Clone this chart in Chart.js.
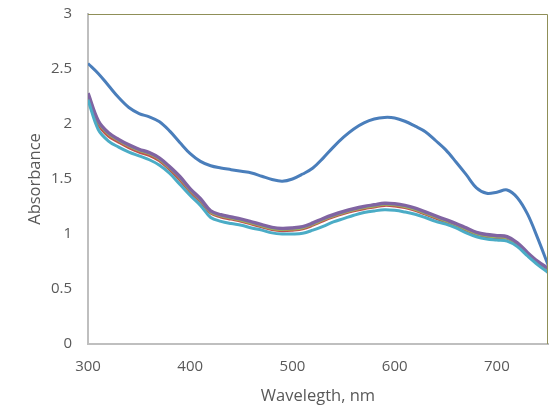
<!DOCTYPE html>
<html lang="en">
<head>
    <meta charset="UTF-8">
    <title>Absorbance spectra</title>
    <style>
        body {
            margin: 0;
            background: #ffffff;
        }
        #wrap {
            width: 554px;
            height: 410px;
        }
    </style>
    <script src="https://cdn.jsdelivr.net/npm/chart.js"></script>
</head>
<body>
    <div id="wrap"><canvas id="specChart" width="554" height="410"></canvas></div>
    <script>
        // wavelengths, nm (every 10 nm)
        const wavelengths = [300, 310, 320, 330, 340, 350, 360, 370, 380, 390,
            400, 410, 420, 430, 440, 450, 460, 470, 480, 490,
            500, 510, 520, 530, 540, 550, 560, 570, 580, 590,
            600, 610, 620, 630, 640, 650, 660, 670, 680, 690,
            700, 710, 720, 730, 740, 750];

        const series1 = [2.55, 2.46, 2.35, 2.24, 2.15, 2.095, 2.065, 2.02, 1.935, 1.83,
            1.73, 1.66, 1.62, 1.60, 1.585, 1.57, 1.555, 1.525, 1.495, 1.48,
            1.50, 1.545, 1.60, 1.69, 1.79, 1.88, 1.955, 2.01, 2.045, 2.06,
            2.055, 2.025, 1.98, 1.93, 1.85, 1.765, 1.655, 1.54, 1.42, 1.37,
            1.38, 1.40, 1.33, 1.18, 0.96, 0.72];

        const series2 = [2.25, 2.00, 1.89, 1.835, 1.785, 1.745, 1.715, 1.665, 1.585, 1.49,
            1.385, 1.295, 1.19, 1.155, 1.135, 1.115, 1.09, 1.065, 1.04, 1.03,
            1.035, 1.047, 1.08, 1.12, 1.155, 1.185, 1.21, 1.23, 1.245, 1.26,
            1.255, 1.24, 1.215, 1.18, 1.145, 1.11, 1.075, 1.035, 0.995, 0.975,
            0.965, 0.96, 0.905, 0.815, 0.735, 0.675];

        const series3 = [2.27, 2.02, 1.91, 1.85, 1.80, 1.76, 1.73, 1.68, 1.60, 1.51,
            1.40, 1.31, 1.20, 1.165, 1.145, 1.125, 1.10, 1.075, 1.05, 1.04,
            1.045, 1.057, 1.09, 1.13, 1.165, 1.195, 1.22, 1.24, 1.255, 1.27,
            1.265, 1.25, 1.225, 1.19, 1.155, 1.12, 1.085, 1.045, 1.005, 0.985,
            0.975, 0.965, 0.91, 0.82, 0.74, 0.68];

        const series4 = [2.28, 2.03, 1.92, 1.86, 1.81, 1.77, 1.74, 1.69, 1.61, 1.52,
            1.41, 1.32, 1.21, 1.175, 1.155, 1.135, 1.11, 1.085, 1.06, 1.05,
            1.055, 1.067, 1.10, 1.14, 1.175, 1.205, 1.23, 1.25, 1.265, 1.28,
            1.275, 1.26, 1.235, 1.20, 1.165, 1.13, 1.095, 1.055, 1.015, 0.995,
            0.985, 0.975, 0.92, 0.83, 0.75, 0.69];

        const series5 = [2.22, 1.95, 1.845, 1.79, 1.745, 1.71, 1.675, 1.625, 1.55, 1.45,
            1.35, 1.26, 1.15, 1.115, 1.095, 1.08, 1.055, 1.035, 1.01, 1.00,
            1.00, 1.006, 1.035, 1.07, 1.11, 1.14, 1.17, 1.195, 1.21, 1.22,
            1.215, 1.20, 1.18, 1.15, 1.115, 1.09, 1.055, 1.01, 0.975, 0.955,
            0.945, 0.935, 0.885, 0.80, 0.72, 0.65];

        const xTicks = [300, 400, 500, 600, 700];
        const yTicks = [0, 0.5, 1, 1.5, 2, 2.5, 3];

        const textColor = '#595959';
        const tickFont = { family: "'Open Sans', sans-serif", size: 15 };
        const titleFont = { family: "'Open Sans', sans-serif", size: 16.5 };

        function points(values) {
            return wavelengths.map((w, i) => ({ x: w, y: values[i] }));
        }

        function line(values, color, width, order) {
            return {
                data: points(values),
                borderColor: color,
                backgroundColor: color,
                borderWidth: width,
                pointRadius: 0,
                tension: 0.35,
                fill: false,
                order: order
            };
        }

        // olive frame on the top and right of the plot area
        const frame = {
            id: 'frame',
            afterDatasetsDraw(chart) {
                const a = chart.chartArea;
                const ctx = chart.ctx;
                ctx.save();
                ctx.strokeStyle = '#8f8f58';
                ctx.lineWidth = 1;
                ctx.beginPath();
                ctx.moveTo(a.left, a.top + 0.5);
                ctx.lineTo(a.right - 0.5, a.top + 0.5);
                ctx.lineTo(a.right - 0.5, a.bottom);
                ctx.stroke();
                ctx.restore();
            }
        };

        new Chart(document.getElementById('specChart'), {
            type: 'line',
            data: {
                datasets: [
                    line(series1, '#4a7ebb', 3, 4),
                    line(series2, '#c0504d', 3, 3),
                    line(series3, '#9bbb59', 3, 2),
                    line(series4, '#8064a2', 3.5, 1),
                    line(series5, '#4bacc6', 3, 0)
                ]
            },
            options: {
                responsive: false,
                animation: false,
                layout: { padding: { top: 14, right: 6, left: 0, bottom: 0 } },
                plugins: {
                    legend: { display: false },
                    tooltip: { enabled: false }
                },
                scales: {
                    x: {
                        type: 'linear',
                        min: 300,
                        max: 750,
                        afterFit(scale) {
                            scale.height = 66;
                            scale.paddingLeft = 0;
                            scale.paddingRight = 0;
                        },
                        afterBuildTicks(scale) { scale.ticks = xTicks.map(v => ({ value: v })); },
                        grid: { display: false, drawTicks: false },
                        border: { display: true, color: '#bfbfbf', width: 2 },
                        ticks: { color: textColor, font: tickFont, padding: 14, maxRotation: 0 },
                        title: {
                            display: true,
                            text: 'Wavelegth, nm',
                            color: textColor,
                            font: titleFont,
                            padding: { top: 0, bottom: 4 }
                        }
                    },
                    y: {
                        min: 0,
                        max: 3,
                        afterFit(scale) {
                            scale.width = 88;
                            scale.paddingTop = 0;
                            scale.paddingBottom = 0;
                        },
                        afterBuildTicks(scale) { scale.ticks = yTicks.map(v => ({ value: v })); },
                        grid: { display: false, drawTicks: false },
                        border: { display: true, color: '#bfbfbf', width: 2 },
                        ticks: {
                            color: textColor,
                            font: tickFont,
                            padding: 16,
                            callback: v => String(v)
                        },
                        title: {
                            display: true,
                            text: 'Absorbance',
                            color: textColor,
                            font: titleFont,
                            padding: { top: 25, bottom: 0 }
                        }
                    }
                }
            },
            plugins: [frame]
        });
    </script>
</body>
</html>
